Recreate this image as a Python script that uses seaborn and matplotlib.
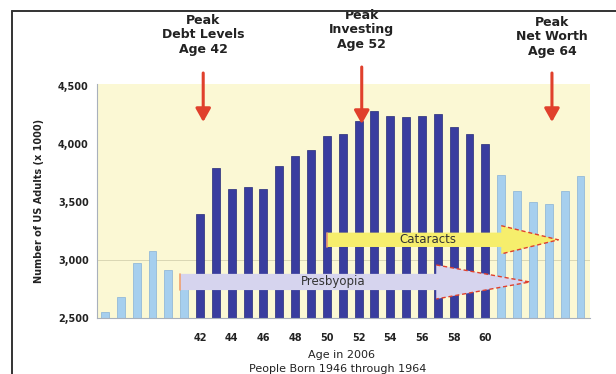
import numpy as np
import pandas as pd
import matplotlib
matplotlib.use("Agg")
import matplotlib.pyplot as plt
import matplotlib.ticker as mticker
from matplotlib.patches import FancyArrow
from matplotlib.lines import Line2D
import seaborn as sns

# data
ages = list(range(36, 67))
adults = [2552, 2684, 2978, 3077, 2912, 2790,
          3402, 3791, 3613, 3627, 3613, 3808, 3901, 3950, 4068, 4086,
          4198, 4290, 4247, 4233, 4247, 4262, 4152, 4090, 4003,
          3737, 3599, 3498, 3484, 3599, 3726]
groups = ["outer"] * 6 + ["boomer"] * 19 + ["outer"] * 6
label_ages = list(range(42, 61, 2))

peaks = ["Peak\nDebt Levels\nAge 42", "Peak\nInvesting\nAge 52", "Peak\nNet Worth\nAge 64"]
peak_ages = [42, 52, 64]

df = pd.DataFrame({"age": [str(a) for a in ages], "adults": adults, "group": groups})

sns.set_style("white")
plt.rcParams["font.family"] = ["DejaVu Sans"]

fig = plt.figure(figsize=(6.16, 3.74), dpi=100)
ax = fig.add_axes([97 / 616, 1 - 318 / 374, (590 - 97) / 616, (318 - 84) / 374])
ax.set_facecolor("#fbf8d4")

ax.axhline(3000, color="#d9d6b4", lw=0.7, zorder=0.5)

sns.barplot(data=df, x="age", y="adults", hue="group", order=df["age"],
            palette={"outer": "#a6cfee", "boomer": "#393d9f"}, saturation=1,
            dodge=False, width=0.5, legend=False, ax=ax, zorder=2)
for bar in ax.patches:
    fc = bar.get_facecolor()
    bar.set_edgecolor("#262a78" if fc[2] < 0.7 or fc[0] < 0.4 else "#88b2d6")
    bar.set_linewidth(0.5)

ax.set_xlim(-0.5, 30.6)
ax.set_ylim(2500, 4520)

# x ticks: labels at even ages 42-60, small marks between categories
pos = [ages.index(a) for a in label_ages]
ax.set_xticks(pos)
ax.set_xticklabels([str(a) for a in label_ages], fontsize=7, fontweight="bold", color="#222222")
ax.set_xticks(np.arange(-0.5, len(ages), 1), minor=True)
ax.tick_params(axis="x", which="major", length=0, pad=11)
ax.tick_params(axis="x", which="minor", length=3, color="#9aa3b0", direction="out")

ax.set_yticks(np.arange(2500, 4501, 500))
ax.yaxis.set_major_formatter(mticker.StrMethodFormatter("{x:,.0f}"))
ax.tick_params(axis="y", length=4, color="#9aa3b0", labelsize=7, pad=2)
for t in ax.get_yticklabels():
    t.set_fontweight("bold")
    t.set_color("#222222")

for s in ["top", "right"]:
    ax.spines[s].set_visible(False)
for s in ["left", "bottom"]:
    ax.spines[s].set_color("#a8b0bc")
    ax.spines[s].set_linewidth(0.8)

ax.set_xlabel("")
ax.set_ylabel("Number of US Adults (x 1000)", fontsize=7, fontweight="bold", labelpad=10, color="#222222")

# Presbyopia / Cataracts arrows
red = "#e0402c"
def band_arrow(x0, tip, hstart, yc, half_body, half_head, color, label, lx):
    arr = FancyArrow(x0, yc, tip - x0, 0, width=2 * half_body, head_width=2 * half_head,
                     head_length=tip - hstart, length_includes_head=True,
                     facecolor=color, edgecolor="none", zorder=4)
    ax.add_patch(arr)
    ax.plot([hstart, tip, hstart], [yc + half_head, yc, yc - half_head],
            color=red, lw=1, ls=(0, (3, 2)), zorder=5)
    ax.plot([x0, x0], [yc - half_body, yc + half_body], color="#f0a070", lw=1.2, zorder=5)
    ax.text(lx, yc, label, ha="center", va="center", fontsize=8.5, color="#333333", zorder=6)

band_arrow(4.75, 26.8, 20.9, 2811, 70, 147, "#d6d4ee", "Presbyopia", 14.4)
band_arrow(14.03, 28.6, 25.0, 3175, 62, 122, "#f6ee6c", "Cataracts", 20.4)

# peak annotations
text_y = [1 - 14 / 374, 1 - 9 / 374, 1 - 16 / 374]
arrow_top = [1 - 73 / 374, 1 - 67 / 374, 1 - 73 / 374]
arrow_tip = [1 - 122 / 374, 1 - 124 / 374, 1 - 122 / 374]
for lab, a, ty, at, tip in zip(peaks, peak_ages, text_y, arrow_top, arrow_tip):
    xi = ages.index(a) + 0.2
    ax.annotate(lab, xy=(xi, ty), xycoords=("data", "figure fraction"),
                ha="center", va="top", fontsize=9, fontweight="bold",
                color="#222222", linespacing=1.15, annotation_clip=False)
    ax.annotate("", xy=(xi, tip), xytext=(xi, at),
                xycoords=("data", "figure fraction"), textcoords=("data", "figure fraction"),
                arrowprops=dict(arrowstyle="-|>,head_length=0.8,head_width=0.45",
                                color=red, lw=2.2, shrinkA=0, shrinkB=0),
                annotation_clip=False, zorder=6)

fig.text(342 / 616, 1 - 355 / 374, "Age in 2006", ha="center", va="center", fontsize=8, color="#222222")
fig.text(338 / 616, 1 - 369 / 374, "People Born 1946 through 1964", ha="center", va="center",
         fontsize=8, color="#222222")

# frame
fig.add_artist(Line2D([12 / 616, 12 / 616], [0, 1 - 11 / 374], color="#333333", lw=1.4))
fig.add_artist(Line2D([12 / 616, 1], [1 - 11 / 374, 1 - 11 / 374], color="#333333", lw=1.4))

fig.savefig("out.png", dpi=100)
